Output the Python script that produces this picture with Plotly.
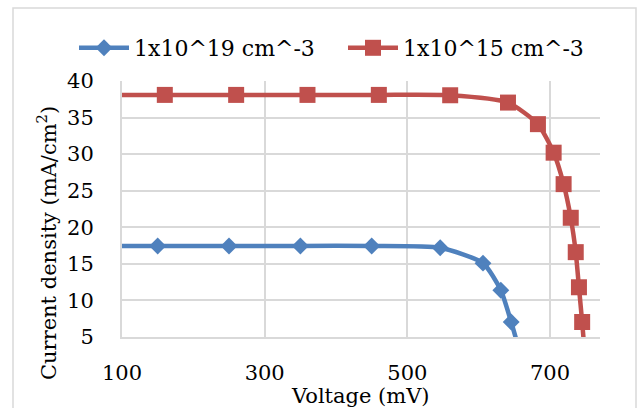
import plotly.graph_objects as go

# ---- data ----
v_19 = [50, 150, 250, 350, 450, 546, 606, 631, 645.5, 666]
j_19 = [17.45, 17.45, 17.45, 17.45, 17.45, 17.2, 15.1, 11.4, 7.05, 0]

v_15 = [60, 160, 260, 360, 460, 560, 641, 683, 705, 719, 729, 736, 740.5, 745, 751]
j_15 = [38.1, 38.1, 38.1, 38.1, 38.1, 38.05, 37.05, 34.1, 30.2, 25.9, 21.3, 16.6, 11.8, 7.05, 0]

name_19 = "1x10^19 cm^-3"
name_15 = "1x10^15 cm^-3"

x_ticks = [100, 300, 500, 700]
y_ticks = [5, 10, 15, 20, 25, 30, 35, 40]

BLUE = "#4F81BD"
RED = "#C0504D"
GRID = "#D9D9D9"
FONT = "DejaVu Serif"

fig = go.Figure()
fig.add_trace(go.Scatter(
    x=v_19, y=j_19, name=name_19, mode="lines+markers",
    line=dict(color=BLUE, width=4.5, shape="spline", smoothing=0.6),
    marker=dict(symbol="diamond", size=13, color=BLUE),
    cliponaxis=True, legend="legend",
))
fig.add_trace(go.Scatter(
    x=v_15, y=j_15, name=name_15, mode="lines+markers",
    line=dict(color=RED, width=4.5, shape="spline", smoothing=0.6),
    marker=dict(symbol="square", size=16, color=RED),
    cliponaxis=True, legend="legend2",
))

L, R, T, B = 122, 38, 81, 71
W, H = 638, 408
pw = W - L - R
ph = H - T - B

def px_x(p):
    return (p - L) / pw

def px_y(p):
    return (H - B - p) / ph

leg_common = dict(
    orientation="h", xref="container", yref="container",
    xanchor="left", y=1 - 48 / H, yanchor="middle",
    font=dict(family=FONT, size=22, color="black"),
    bgcolor="rgba(0,0,0,0)", itemwidth=50,
)

fig.update_layout(
    width=W, height=H,
    margin=dict(l=L, r=R, t=T, b=B, autoexpand=False),
    paper_bgcolor="white", plot_bgcolor="white",
    font=dict(family=FONT, size=21, color="black"),
    showlegend=True,
    legend=dict(x=74 / W, **leg_common),
    legend2=dict(x=343 / W, **leg_common),
    xaxis=dict(
        range=[100, 770], tickmode="array", tickvals=x_ticks,
        ticktext=[str(v) for v in x_ticks],
        showgrid=True, gridcolor=GRID, gridwidth=2,
        showline=True, linecolor=GRID, linewidth=2,
        zeroline=False, ticks="", ticklabelstandoff=16,
        tickfont=dict(family=FONT, size=21, color="black"),
    ),
    yaxis=dict(
        range=[5, 40], tickmode="array", tickvals=y_ticks,
        showgrid=True, gridcolor=GRID, gridwidth=2,
        showline=True, linecolor=GRID, linewidth=2,
        zeroline=False, ticks="", ticklabelstandoff=22,
        tickfont=dict(family=FONT, size=21, color="black"),
    ),
    annotations=[
        dict(text="Voltage (mV)", xref="paper", yref="paper",
             x=px_x(360), y=px_y(396), xanchor="center", yanchor="middle",
             showarrow=False, font=dict(family=FONT, size=21, color="black")),
        dict(text="Current density (mA/cm<sup>2</sup>)", xref="paper", yref="paper",
             x=px_x(47), y=px_y(243), xanchor="center", yanchor="middle",
             textangle=-90, showarrow=False,
             font=dict(family=FONT, size=21, color="black")),
    ],
    shapes=[
        dict(type="rect", xref="paper", yref="paper",
             x0=px_x(13), x1=px_x(636), y0=px_y(412), y1=px_y(8),
             line=dict(color=GRID, width=1.5), fillcolor="rgba(0,0,0,0)", layer="below"),
    ],
)

fig.write_html("out.html")
